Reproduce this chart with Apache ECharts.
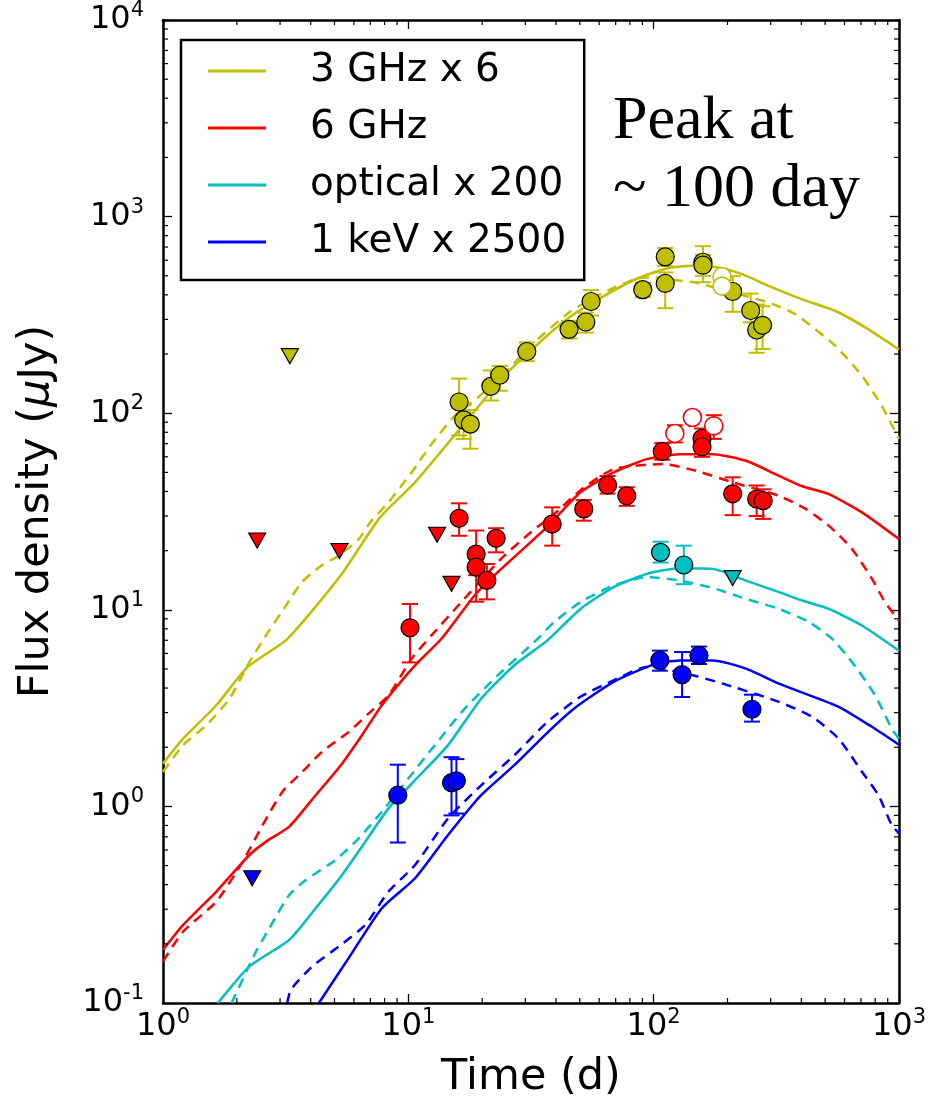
<!DOCTYPE html>
<html><head><meta charset="utf-8">
<script src="https://cdn.jsdelivr.net/npm/echarts@6/dist/echarts.min.js"></script>
<style>html,body{margin:0;padding:0;background:#fff}#c{width:929px;height:1104px}</style>
</head><body><div id="c"></div>
<script>
// ---------- model curves [time (d), flux density (uJy)] ----------
const m3GHzSolid = [[1,1.65],[1.208,2.21],[1.65,3.27],[2.214,5.12],[3.216,7.12],[5.29,14.9],[7.68,29.6],[10.65,44.5],[16.2,83],[24.6,154.6],[33.6,224],[45.8,310],[62.6,394],[85.4,483],[116.4,549],[149.3,564],[185.5,549],[230.7,508],[295.8,443],[403.6,379],[550.8,331],[751,267],[1000,211]];
const m3GHzDash = [[1,1.50],[1.208,2.05],[1.503,2.59],[1.867,3.53],[2.25,5.43],[2.63,7.41],[3.17,10.5],[3.69,13.87],[4.39,16.67],[5.21,18.86],[6.28,22.9],[7.0,27.9],[8.3,35.2],[10.31,50],[12.43,69.6],[15.45,96.9],[19.2,120],[24.6,160],[33.6,237],[45.8,329],[62.6,411],[85.4,484],[100,490],[116.4,479],[149.3,461],[190,425],[295.8,365],[379,318],[550.8,220],[706.3,155],[851,109],[1000,74]];
const m6GHzSolid = [[1,0.1865],[1.208,0.2497],[1.65,0.369],[2.25,0.566],[2.63,0.662],[3.27,0.789],[4.19,1.14],[5.37,1.65],[6.47,2.30],[7.80,3.27],[10.65,5.22],[13.64,7.12],[18.62,11.82],[23.14,15.54],[36.9,26.5],[50.3,39.6],[68.7,50.0],[93.7,58.4],[127.8,61.9],[174.5,61.9],[237.9,57.3],[324.6,48.0],[403.6,42.5],[517.3,38.8],[706.3,31.3],[1000,22.9]];
const m6GHzDash = [[1,0.1628],[1.208,0.231],[1.65,0.328],[2.114,0.524],[2.547,0.804],[3.069,1.188],[3.70,1.50],[4.46,1.90],[5.71,2.39],[6.89,2.97],[8.30,3.67],[10.31,5.64],[12.43,7.41],[16.44,10.94],[23.86,18.15],[31.56,24.8],[39.3,30.7],[50.3,40.6],[68.7,52.0],[109.5,55.1],[149.3,50.9],[210,44.5],[324.6,38.0],[416.4,32.6],[517.3,26.8],[643.5,20.4],[775.3,14.4],[877.6,10.94],[1000,8.8]];
const mOptSolid = [[1.675,0.1],[2.25,0.1536],[3.27,0.2096],[4.19,0.3035],[5.37,0.448],[6.68,0.662],[8.30,0.977],[10.65,1.36],[14.52,2.05],[19.81,3.53],[27.04,5.22],[36.9,6.99],[50.3,10.1],[68.7,13.04],[93.7,15.23],[127.8,16.28],[174.5,16.15],[237.9,14.08],[324.6,12.3],[403.6,11.15],[517.3,10.1],[706.3,8.32],[1000,6.19]];
const mOptDash = [[1.903,0.1],[2.395,0.183],[2.712,0.240],[3.27,0.3546],[3.82,0.4225],[5.05,0.534],[6.28,0.688],[7.80,0.940],[10,1.387],[12.83,2.05],[16.96,3.14],[23.14,4.64],[32.6,6.85],[39.3,8.66],[50.3,10.94],[68.7,13.29],[93.7,14.66],[127.8,14.08],[174.5,12.89],[237.9,11.37],[324.6,10.1],[429.4,8.66],[534,7.12],[651,5.32],[799.5,3.67],[934,2.49],[1000,2.21]];
const mXraySolid = [[4.32,0.1],[5.71,0.1692],[7.80,0.3035],[10.65,0.431],[14.52,0.715],[19.81,1.14],[27.04,1.62],[36.9,2.375],[47.3,3.14],[68.7,4.30],[99.7,5.26],[127.8,5.53],[174.5,5.53],[237.9,5.02],[324.6,4.21],[391,3.85],[568,3.21],[775.3,2.54],[1000,2.06]];
const mXrayDash = [[3.21,0.1],[3.32,0.1168],[4.06,0.1536],[5.21,0.194],[6.68,0.2497],[8.30,0.369],[10.65,0.503],[14.52,0.869],[19.81,1.28],[27.04,1.82],[36.9,2.69],[50.3,3.61],[68.7,4.38],[93.7,5.12],[136,4.73],[191.5,4.21],[324.6,3.40],[443.2,2.85],[568,2.21],[706.3,1.50],[824.6,1.14],[934,0.804],[1000,0.73]];

// ---------- observations [time, flux, low, high] ----------
const obs3GHz = [[16.1,114,77,150],[16.8,92.5,74,110],[17.9,88,66,104],[21.7,137,116,165],[23.6,156,130,174],[30.4,206,184,229],[45.2,267,240,295],[52.9,291,257,325],[55.6,370,314,423],[90.3,425,389,460],[111.5,624,560,693],[111.5,457,342,520],[158.8,586,464,707],[158.8,566,500,640],[210,416,328,498],[248.7,333,290,406],[263,265,203,357],[278,280,212,350]];
const obs3GHzOpen = [[190,494],[190,443]];
const lim3GHz = [[3.29,195]];
const obs6GHz = [[10.16,8.1,5.4,10.7],[16.1,29.2,23.8,34.8],[18.9,19.2,15,25.3],[18.9,16.5,11,19],[20.9,14.1,11.3,17.1],[22.8,23.1,19.6,26],[38.6,27.3,21.2,33.2],[51.9,32.6,28.4,36.2],[64.9,43.1,39,47.9],[77.7,38.0,33.8,42],[108.4,63.9,58,70.4],[157.5,74.4,67,83.6],[157.5,67.5,60,76],[210,38.9,30.3,47.2],[263,36.6,30,42.9],[279.6,35.9,29,41]];
const obs6GHzOpen = [[122,78.9,71,86.8],[143.9,95.1,95.1,95.1],[175.8,86.2,74,97.7]];
const lim6GHz = [[2.42,22.5],[5.24,19.9],[13.1,24.1],[15.0,13.55]];
const obsOpt = [[106.7,19.6,17.4,22.2],[132.7,16.9,13.5,21.2]];
const limOpt = [[210,14.5]];
const obsXray = [[9.06,1.14,0.655,1.63],[15.0,1.32,0.9,1.78],[15.7,1.35,0.92,1.74],[106,5.53,4.9,6.2],[130.6,4.68,3.6,6.1],[153,5.86,5.3,6.5],[251.7,3.12,2.7,3.7]];
const limXray = [[2.31,0.431]];

const legendNames = ['3 GHz x 6', '6 GHz', 'optical x 200', '1 keV x 2500'];
const xDecades = [1, 10, 100];
const yDecades = [0.1, 1, 10, 100, 1000];
const minorMult = [2, 3, 4, 5, 6, 7, 8, 9];

const C = { y: '#bfbf00', r: '#ff0000', c: '#00bfbf', b: '#0000ff' };
const FONT = 'DejaVu Sans';

function modelLine(name, data, color, dashed) {
  return { type: 'line', name: name, data: data, symbol: 'none', smooth: 0.2,
    lineStyle: { color: color, width: 2.5, type: dashed ? [10, 7] : 'solid' },
    itemStyle: { color: color }, z: 2, silent: true };
}
function errBars(data, color) {
  return { type: 'custom', data: data, encode: { x: 0, y: 1 }, z: 3, silent: true,
    renderItem: function (params, api) {
      const x = api.value(0), lo = api.value(2), hi = api.value(3);
      if (lo === hi) return null;
      const p1 = api.coord([x, lo]), p2 = api.coord([x, hi]);
      const w = 8, st = { stroke: color, lineWidth: 2 };
      return { type: 'group', children: [
        { type: 'line', shape: { x1: p1[0], y1: p1[1], x2: p2[0], y2: p2[1] }, style: st },
        { type: 'line', shape: { x1: p1[0] - w, y1: p1[1], x2: p1[0] + w, y2: p1[1] }, style: st },
        { type: 'line', shape: { x1: p2[0] - w, y1: p2[1], x2: p2[0] + w, y2: p2[1] }, style: st }
      ] };
    } };
}
function dots(data, color, open) {
  return { type: 'scatter', data: data.map(d => [d[0], d[1]]), symbol: 'circle', symbolSize: 18, z: 5, silent: true,
    itemStyle: open ? { color: '#fff', borderColor: color, borderWidth: 1.6, opacity: 1 }
                    : { color: color, borderColor: '#000', borderWidth: 1.2, opacity: 1 } };
}
function limits(data, color) {
  return { type: 'scatter', data: data, symbol: 'triangle', symbolRotate: 180, symbolSize: [17, 15], z: 5, silent: true,
    itemStyle: { color: color, borderColor: '#000', borderWidth: 1.2, opacity: 1 } };
}
const xMinor = [], yMinor = [];
xDecades.forEach(d => minorMult.forEach(m => xMinor.push([d * m, 1])));
yDecades.forEach(d => minorMult.forEach(m => yMinor.push([1, d * m])));
const tickStyle = { stroke: '#000', lineWidth: 1.2 };
const minorX = { type: 'custom', data: xMinor, encode: { x: 0, y: 1 }, z: 6, silent: true,
  renderItem: function (p, api) {
    const v = api.value(0), b = api.coord([v, 0.1]), t = api.coord([v, 10000]);
    return { type: 'group', children: [
      { type: 'line', shape: { x1: b[0], y1: b[1], x2: b[0], y2: b[1] - 5 }, style: tickStyle },
      { type: 'line', shape: { x1: t[0], y1: t[1], x2: t[0], y2: t[1] + 5 }, style: tickStyle }] };
  } };
const minorY = { type: 'custom', data: yMinor, encode: { x: 0, y: 1 }, z: 6, silent: true,
  renderItem: function (p, api) {
    const v = api.value(1), l = api.coord([1, v]), r = api.coord([1000, v]);
    return { type: 'group', children: [
      { type: 'line', shape: { x1: l[0], y1: l[1], x2: l[0] + 5, y2: l[1] }, style: tickStyle },
      { type: 'line', shape: { x1: r[0], y1: r[1], x2: r[0] - 5, y2: r[1] }, style: tickStyle }] };
  } };

function powLabel(v) {
  const e = Math.round(Math.log10(v));
  return '{b|10}{s|' + e + '}';
}
const labelRich = { b: { fontSize: 32, fontFamily: FONT, color: '#000', lineHeight: 40 },
                    s: { fontSize: 21, fontFamily: FONT, color: '#000', lineHeight: 22, verticalAlign: 'top' } };
function logAxis(min, max, pos, showLabel, extra) {
  return Object.assign({
    type: 'log', logBase: 10, min: min, max: max, position: pos,
    axisLine: { show: true, lineStyle: { color: '#000', width: 2.5 } },
    axisTick: { show: true, inside: true, length: 9, lineStyle: { color: '#000', width: 1.3 } },
    minorTick: { show: false }, splitLine: { show: false },
    axisLabel: { show: showLabel, formatter: powLabel, rich: labelRich, margin: 4 }
  }, extra || {});
}

const option = {
  animation: false,
  grid: { left: 163, right: 26, top: 20, bottom: 99 },
  xAxis: [
    logAxis(1, 1000, 'bottom', true, { name: 'Time (d)', nameLocation: 'middle', nameGap: 53,
      nameTextStyle: { fontSize: 43, fontFamily: FONT, color: '#000' } }),
    logAxis(1, 1000, 'top', false)
  ],
  yAxis: [
    logAxis(0.1, 10000, 'left', true, { name: 'Flux density ({i|μ}Jy)', nameLocation: 'middle', nameGap: 105,
      nameTextStyle: { fontSize: 43, fontFamily: FONT, color: '#000',
        rich: { i: { fontSize: 43, fontFamily: FONT, fontStyle: 'italic', color: '#000' } } },
      axisLabel: { show: true, formatter: powLabel, rich: labelRich, margin: 19 } }),
    logAxis(0.1, 10000, 'right', false)
  ],
  legend: {
    data: legendNames, orient: 'vertical', left: 181, top: 40,
    icon: 'rect', itemWidth: 58, itemHeight: 3, itemGap: 17,
    padding: [11, 18, 18, 27], borderColor: '#000', borderWidth: 2.5, backgroundColor: '#fff',
    selectedMode: false, z: 10,
    textStyle: { fontSize: 39, fontFamily: FONT, color: '#000', lineHeight: 40, padding: [0, 0, 0, 39] }
  },
  graphic: [{ type: 'text', left: 613, top: 88, z: 10,
    style: { text: 'Peak at\n~ 100 day', font: '62px "Liberation Serif"', fill: '#000', lineHeight: 68 } }],
  series: [
    modelLine(legendNames[0], m3GHzSolid, C.y, false),
    modelLine('3 GHz dashed', m3GHzDash, C.y, true),
    modelLine(legendNames[1], m6GHzSolid, C.r, false),
    modelLine('6 GHz dashed', m6GHzDash, C.r, true),
    modelLine(legendNames[2], mOptSolid, C.c, false),
    modelLine('optical dashed', mOptDash, C.c, true),
    modelLine(legendNames[3], mXraySolid, C.b, false),
    modelLine('1 keV dashed', mXrayDash, C.b, true),
    errBars(obs3GHz, C.y), errBars(obs6GHz, C.r), errBars(obs6GHzOpen, C.r), errBars(obsOpt, C.c), errBars(obsXray, C.b),
    dots(obs3GHz, C.y, false), dots(obs3GHzOpen, C.y, true),
    dots(obs6GHz, C.r, false), dots(obs6GHzOpen, C.r, true),
    dots(obsOpt, C.c, false), dots(obsXray, C.b, false),
    limits(lim3GHz, C.y), limits(lim6GHz, C.r), limits(limOpt, C.c), limits(limXray, C.b),
    minorX, minorY
  ]
};
const chart = echarts.init(document.getElementById('c'));
chart.setOption(option);
</script>
</body></html>
